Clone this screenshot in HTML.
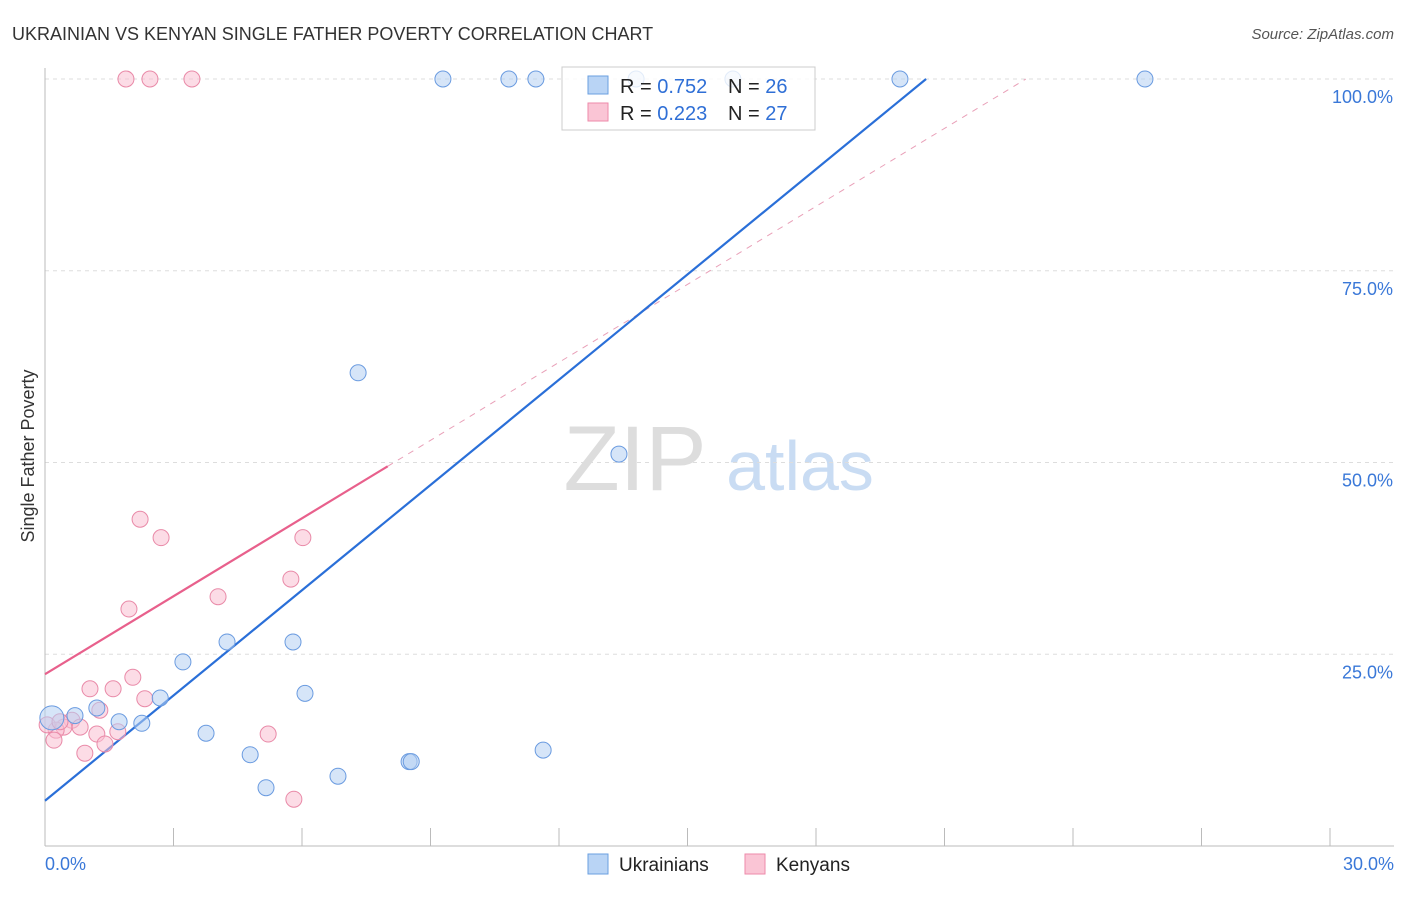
<!DOCTYPE html>
<html><head><meta charset="utf-8"><style>
body{margin:0;background:#fff;font-family:"Liberation Sans",sans-serif;}
svg text{font-family:"Liberation Sans",sans-serif;}
</style></head><body>
<svg id="c" width="1406" height="892" xmlns="http://www.w3.org/2000/svg">
<text x="12" y="40" font-size="18" fill="#333">UKRAINIAN VS KENYAN SINGLE FATHER POVERTY CORRELATION CHART</text>
<text x="1394" y="39" font-size="15" fill="#555" text-anchor="end" font-style="italic">Source: ZipAtlas.com</text>
<text x="34" y="456" font-size="18" fill="#333" text-anchor="middle" transform="rotate(-90 34 456)">Single Father Poverty</text>
<g><text x="635" y="490" font-size="92" fill="#ddd" text-anchor="middle" font-family="Liberation Serif">ZIP</text><text x="800" y="490" font-size="70" fill="#c9dcf3" text-anchor="middle">atlas</text></g>
<g id="grid"></g><g id="axes"></g><g id="lines"></g><g id="pts"></g>
<g>
<rect x="562" y="67" width="253" height="63" fill="#fff" fill-opacity="0.8" stroke="#ccc"/>
<rect x="588" y="76" width="20" height="18" fill="#b9d4f5" stroke="#6a9fe0"/>
<rect x="588" y="103" width="20" height="18" fill="#fac5d5" stroke="#ee8aaa"/>
<text x="620" y="93" font-size="20" fill="#222">R = <tspan fill="#2f6fd6">0.752</tspan></text>
<text x="728" y="93" font-size="20" fill="#222">N = <tspan fill="#2f6fd6">26</tspan></text>
<text x="620" y="120" font-size="20" fill="#222">R = <tspan fill="#2f6fd6">0.223</tspan></text>
<text x="728" y="120" font-size="20" fill="#222">N = <tspan fill="#2f6fd6">27</tspan></text>
</g>
<g>
<rect x="588" y="854" width="20" height="20" fill="#b9d4f5" stroke="#6a9fe0"/><text x="619" y="871" font-size="19" fill="#222">Ukrainians</text>
<rect x="745" y="854" width="20" height="20" fill="#fac5d5" stroke="#ee8aaa"/><text x="776" y="871" font-size="19" fill="#222">Kenyans</text>
</g>
</svg>
<script>
const blueX=[0.16,0.70,1.21,1.73,2.26,2.69,3.22,3.76,4.25,4.79,5.16,5.79,6.07,6.84,7.31,8.50,8.55,11.63,13.40,9.29,10.83,11.46,13.80,16.06,19.96,25.68];
const blueY=[16.7,17.0,18.0,16.2,16.0,19.3,24.0,14.7,26.6,11.9,7.6,26.6,19.9,9.1,61.7,11.0,11.0,12.5,51.1,100,100,100,100,100,100,100];
const pinkX=[1.89,2.45,3.43,2.22,2.71,1.96,4.04,6.02,5.74,2.05,1.59,1.05,2.33,1.28,0.63,0.82,0.44,0.26,0.21,0.93,1.21,1.40,1.70,5.21,5.81,0.05,0.35];
const pinkY=[100,100,100,42.6,40.2,30.9,32.5,40.2,34.8,22.0,20.5,20.5,19.2,17.7,16.4,15.5,15.5,15.1,13.8,12.1,14.6,13.3,14.9,14.6,6.1,15.8,16.2];
const blueTrend=[[0,5.9],[20.57,100]];
const pinkTrend=[[0,22.4],[8.0,49.5]];
const pinkTrendExt=[[8.0,49.5],[22.9,100]];
const yTicks=[25,50,75,100];
const yTickLabels=["25.0%","50.0%","75.0%","100.0%"];
const xTicks=[0,3,6,9,12,15,18,21,24,27,30];
const NS="http://www.w3.org/2000/svg";
const X=v=>45+v/30*1285, Y=v=>846-v*7.67;
function mk(p,t,a){const e=document.createElementNS(NS,t);for(const k in a)e.setAttribute(k,a[k]);document.getElementById(p).appendChild(e);return e;}
yTicks.forEach((v,i)=>{
 const g=mk('grid','line',{x1:45,x2:1394,y1:Y(v),y2:Y(v),stroke:'#ddd','stroke-dasharray':'4,4'});
 
 
 const t=mk('axes','text',{x:1393,y:Y(v)+24,'font-size':18,fill:'#3a78d8','text-anchor':'end'});t.textContent=yTickLabels[i];
 
 
});
const ax=mk('axes','line',{x1:45,x2:1394,y1:846,y2:846,stroke:'#bbb'});


const ay=mk('axes','line',{x1:45,x2:45,y1:68,y2:846,stroke:'#bbb'});


xTicks.forEach(v=>{const t=mk('axes','line',{x1:X(v),x2:X(v),y1:828,y2:846,stroke:'#bbb'});
 
 });
const l0=mk('axes','text',{x:45,y:870,'font-size':18,fill:'#3a78d8'});l0.textContent='0.0%';


const l1=mk('axes','text',{x:1394,y:870,'font-size':18,fill:'#3a78d8','text-anchor':'end'});l1.textContent='30.0%';


function dot(x,y,f,s,r,n){const c=mk('pts','circle',{cx:X(x),cy:Y(y),r:r,fill:f,'fill-opacity':0.55,stroke:s,'stroke-width':1});
 
 }
pinkX.forEach((x,i)=>dot(x,pinkY[i],'#f9c0d1','#e98aa8',8,'kenyan-point'));
blueX.forEach((x,i)=>dot(x,blueY[i],'#b5d0f3','#6a9be0',i==0?12:8,'ukrainian-point'));
function ln(p,col,w,dash,n){const e=mk('lines','line',{x1:X(p[0][0]),y1:Y(p[0][1]),x2:X(p[1][0]),y2:Y(p[1][1]),stroke:col,'stroke-width':w});
 if(dash)e.setAttribute('stroke-dasharray',dash);
 
 }
ln(pinkTrendExt,'#e9a0b8',1,'6,6','kenyan-trend-extension');
ln(pinkTrend,'#e8608c',2.2,null,'kenyan-trend-line');
ln(blueTrend,'#2a6fd8',2.2,null,'ukrainian-trend-line');
</script>
</body></html>
